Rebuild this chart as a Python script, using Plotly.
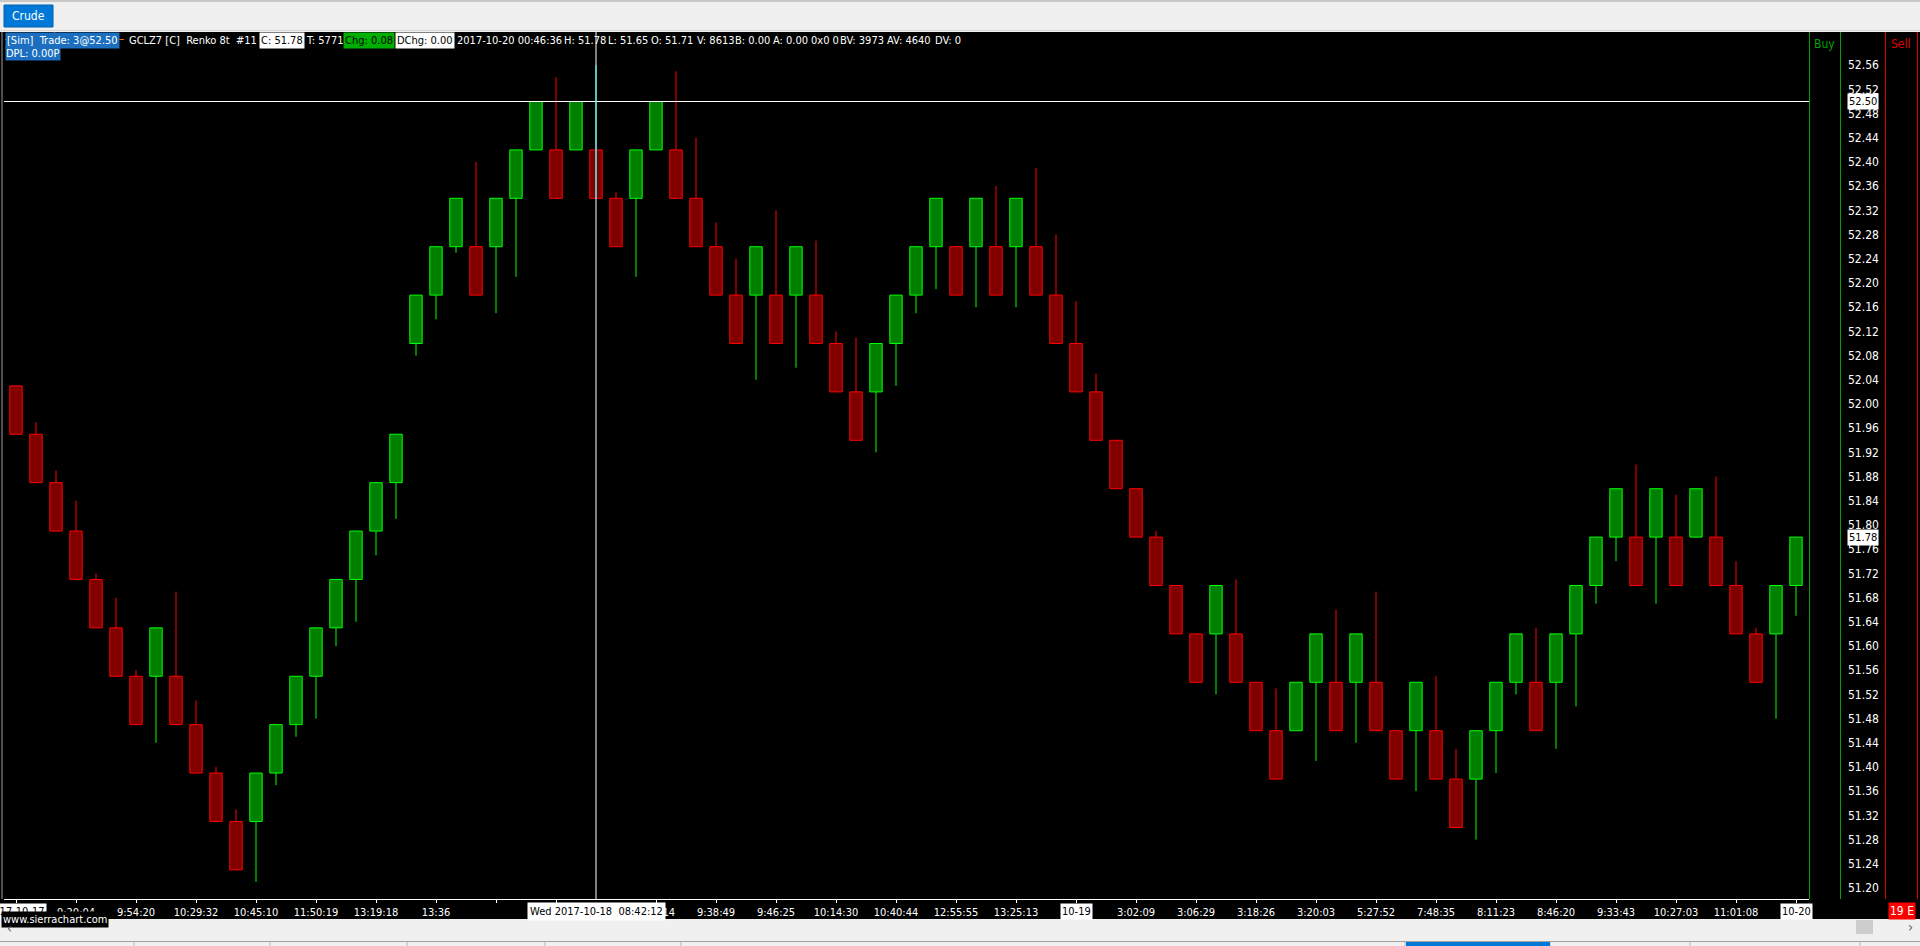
import plotly.graph_objects as go

W, H = 1920, 946

# ---------------- data (Renko 8t bricks, GCLZ7) ----------------
opens = [52.03, 51.95, 51.87, 51.79, 51.71, 51.63, 51.55, 51.55, 51.55, 51.47,
         51.39, 51.31, 51.31, 51.39, 51.47, 51.55, 51.63, 51.71, 51.79, 51.87,
         52.10, 52.18, 52.26, 52.26, 52.26, 52.34, 52.42, 52.42, 52.42, 52.42,
         52.34, 52.34, 52.42, 52.42, 52.34, 52.26, 52.18, 52.18, 52.18, 52.18,
         52.18, 52.10, 52.02, 52.02, 52.10, 52.18, 52.26, 52.26, 52.26, 52.26,
         52.26, 52.26, 52.18, 52.10, 52.02, 51.94, 51.86, 51.78, 51.70, 51.62,
         51.62, 51.62, 51.54, 51.46, 51.46, 51.54, 51.54, 51.54, 51.54, 51.46,
         51.46, 51.46, 51.38, 51.38, 51.46, 51.54, 51.54, 51.54, 51.62, 51.70,
         51.78, 51.78, 51.78, 51.78, 51.78, 51.78, 51.70, 51.62, 51.62, 51.70]
closes = [51.95, 51.87, 51.79, 51.71, 51.63, 51.55, 51.47, 51.63, 51.47, 51.39,
          51.31, 51.23, 51.39, 51.47, 51.55, 51.63, 51.71, 51.79, 51.87, 51.95,
          52.18, 52.26, 52.34, 52.18, 52.34, 52.42, 52.50, 52.34, 52.50, 52.34,
          52.26, 52.42, 52.50, 52.34, 52.26, 52.18, 52.10, 52.26, 52.10, 52.26,
          52.10, 52.02, 51.94, 52.10, 52.18, 52.26, 52.34, 52.18, 52.34, 52.18,
          52.34, 52.18, 52.10, 52.02, 51.94, 51.86, 51.78, 51.70, 51.62, 51.54,
          51.70, 51.54, 51.46, 51.38, 51.54, 51.62, 51.46, 51.62, 51.46, 51.38,
          51.54, 51.38, 51.30, 51.46, 51.54, 51.62, 51.46, 51.62, 51.70, 51.78,
          51.86, 51.70, 51.86, 51.70, 51.86, 51.70, 51.62, 51.54, 51.70, 51.78]
highs = [52.03, 51.97, 51.89, 51.84, 51.72, 51.68, 51.56, 51.63, 51.69, 51.51,
         51.40, 51.33, 51.39, 51.47, 51.55, 51.63, 51.71, 51.79, 51.87, 51.95,
         52.18, 52.26, 52.34, 52.40, 52.34, 52.42, 52.50, 52.54, 52.50, 52.56,
         52.35, 52.42, 52.50, 52.55, 52.44, 52.30, 52.24, 52.26, 52.32, 52.26,
         52.27, 52.12, 52.11, 52.10, 52.18, 52.26, 52.34, 52.26, 52.34, 52.36,
         52.34, 52.39, 52.28, 52.17, 52.05, 51.94, 51.86, 51.79, 51.70, 51.62,
         51.70, 51.71, 51.54, 51.53, 51.54, 51.62, 51.66, 51.62, 51.69, 51.46,
         51.54, 51.55, 51.43, 51.46, 51.54, 51.62, 51.63, 51.62, 51.70, 51.78,
         51.86, 51.90, 51.86, 51.85, 51.86, 51.88, 51.74, 51.63, 51.70, 51.78]
lows = [51.95, 51.87, 51.79, 51.71, 51.63, 51.55, 51.47, 51.44, 51.47, 51.39,
        51.31, 51.23, 51.21, 51.37, 51.45, 51.48, 51.60, 51.64, 51.75, 51.81,
        52.08, 52.14, 52.25, 52.18, 52.15, 52.21, 52.42, 52.34, 52.42, 52.34,
        52.26, 52.21, 52.42, 52.34, 52.26, 52.18, 52.10, 52.04, 52.10, 52.06,
        52.10, 52.02, 51.94, 51.92, 52.03, 52.15, 52.19, 52.18, 52.16, 52.18,
        52.16, 52.18, 52.10, 52.02, 51.94, 51.86, 51.78, 51.70, 51.62, 51.54,
        51.52, 51.54, 51.46, 51.38, 51.46, 51.41, 51.46, 51.44, 51.46, 51.38,
        51.36, 51.38, 51.30, 51.28, 51.39, 51.52, 51.46, 51.43, 51.50, 51.67,
        51.74, 51.70, 51.67, 51.70, 51.78, 51.70, 51.62, 51.54, 51.48, 51.65]

y_tick_vals = [51.20, 51.24, 51.28, 51.32, 51.36, 51.40, 51.44, 51.48, 51.52,
               51.56, 51.60, 51.64, 51.68, 51.72, 51.76, 51.80, 51.84, 51.88,
               51.92, 51.96, 52.00, 52.04, 52.08, 52.12, 52.16, 52.20, 52.24,
               52.28, 52.32, 52.36, 52.40, 52.44, 52.48, 52.52, 52.56]

x_tick_idx = [0, 3, 6, 9, 12, 15, 18, 21, 24, 27, 32, 35, 38, 41, 44, 47, 50, 53,
              56, 59, 62, 65, 68, 71, 74, 77, 80, 83, 86, 89]
x_tick_text = ["", "9:20:04", "9:54:20", "10:29:32", "10:45:10", "11:50:19",
               "13:19:18", "13:36", "", "", "9:22:14", "9:38:49", "9:46:25",
               "10:14:30", "10:40:44", "12:55:55", "13:25:13", "", "3:02:09",
               "3:06:29", "3:18:26", "3:20:03", "5:27:52", "7:48:35", "8:11:23",
               "8:46:20", "9:33:43", "10:27:03", "11:01:08", ""]
date_labels_idx = [0, 53, 89]
date_labels_text = ["2017-10-17", "10-19", "10-20"]

line_price = 52.50        # horizontal order line
last_price = 51.78        # current price marker
cross_idx = 29            # crosshair bar
cross_label = "Wed 2017-10-18  08:42:12"

header_line1 = [  # (text, x pixel, text colour, background)
    ("[Sim]  Trade: 3@52.50", 5, "#ffffff", "#1c6fc0"),
    ("GCLZ7 [C]  Renko 8t  #11", 127, "#ffffff", None),
    ("C: 51.78", 259, "#000000", "#ffffff"),
    ("T: 5771", 304, "#ffffff", None),
    ("Chg: 0.08", 343, "#000000", "#00b000"),
    ("DChg: 0.00", 395, "#000000", "#ffffff"),
    ("2017-10-20 00:46:36", 455, "#ffffff", None),
    ("H: 51.78", 562, "#ffffff", None),
    ("L: 51.65", 606, "#ffffff", None),
    ("O: 51.71", 649, "#ffffff", None),
    ("V: 8613", 695, "#ffffff", None),
    ("B: 0.00", 733, "#ffffff", None),
    ("A: 0.00", 771, "#ffffff", None),
    ("0x0 0", 809, "#ffffff", None),
    ("BV: 3973", 838, "#ffffff", None),
    ("AV: 4640", 885, "#ffffff", None),
    ("DV: 0", 933, "#ffffff", None),
]
header_line2 = ("DPL: 0.00P", 5, "#ffffff", "#1c6fc0")

# ---------------- geometry helpers ----------------
FONT = "Liberation Sans Narrow, DejaVu Sans Condensed, Roboto Condensed, Liberation Sans, Arial"
PLOT_L, PLOT_R, PLOT_T, PLOT_B = 4, 1809, 32, 899
FS = 11


def X(px):
    return px / W


def Y(py):
    return 1 - py / H


def keep_spaces(s):
    return s.replace("  ", "\u00a0\u00a0")


n = len(opens)
idx = list(range(n))
up = [c > o for o, c in zip(opens, closes)]
fill = ["#008000" if u else "#800000" for u in up]
edge = ["#00ff00" if u else "#ff0000" for u in up]
base = [min(o, c) for o, c in zip(opens, closes)]
height = [abs(c - o) for o, c in zip(opens, closes)]

fig = go.Figure()

# wicks
for is_up, col in ((True, "#00ff00"), (False, "#ff0000")):
    wx, wy = [], []
    for i in idx:
        if up[i] != is_up:
            continue
        top, bot = max(opens[i], closes[i]), min(opens[i], closes[i])
        if highs[i] > top + 1e-9:
            wx += [i, i, None]
            wy += [top, highs[i], None]
        if lows[i] < bot - 1e-9:
            wx += [i, i, None]
            wy += [bot, lows[i], None]
    fig.add_trace(go.Scatter(x=wx, y=wy, mode="lines", line=dict(color=col, width=1),
                             hoverinfo="skip", showlegend=False))

# bodies
fig.add_trace(go.Bar(x=idx, y=height, base=base, width=0.62,
                     marker=dict(color=fill, line=dict(color=edge, width=1)),
                     hoverinfo="skip", showlegend=False))

# XOR-like colouring where the order line crosses brick tops
mx, my = [], []
for i in idx:
    if up[i] and abs(closes[i] - line_price) < 1e-9:
        mx += [i - 0.31, i + 0.31, None]
        my += [line_price, line_price, None]
fig.add_trace(go.Scatter(x=mx, y=my, mode="lines", line=dict(color="#ff00ff", width=1),
                         hoverinfo="skip", showlegend=False))

shapes = []
# horizontal order line
shapes.append(dict(type="line", xref="x domain", yref="y", x0=0, x1=1,
                   y0=line_price, y1=line_price, line=dict(color="#ffffff", width=1)))
# crosshair vertical
shapes.append(dict(type="line", xref="x", yref="y domain", x0=cross_idx, x1=cross_idx,
                   y0=0, y1=1, line=dict(color="#ffffff", width=1)))
shapes.append(dict(type="line", xref="x", yref="y", x0=cross_idx, x1=cross_idx,
                   y0=lows[cross_idx], y1=highs[cross_idx], line=dict(color="#00ffff", width=1)))

# top tab bar
shapes.append(dict(type="rect", xref="paper", yref="paper", x0=0, x1=1, y0=Y(32), y1=1,
                   fillcolor="#f0f0f0", line=dict(width=0), layer="above"))
shapes.append(dict(type="line", xref="paper", yref="paper", x0=0, x1=1, y0=Y(1), y1=Y(1),
                   line=dict(color="#a0a0a0", width=1), layer="above"))
shapes.append(dict(type="line", xref="paper", yref="paper", x0=0, x1=1, y0=Y(30.5), y1=Y(30.5),
                   line=dict(color="#d8d8d8", width=1), layer="above"))
shapes.append(dict(type="rect", xref="paper", yref="paper", x0=X(4), x1=X(53), y0=Y(27), y1=Y(5),
                   fillcolor="#0078d7", line=dict(color="#0060b0", width=1), layer="above"))

# bottom scroll / tab area
shapes.append(dict(type="rect", xref="paper", yref="paper", x0=0, x1=1, y0=0, y1=Y(919),
                   fillcolor="#f0f0f0", line=dict(width=0), layer="above"))
shapes.append(dict(type="line", xref="paper", yref="paper", x0=0, x1=1, y0=Y(941.5), y1=Y(941.5),
                   line=dict(color="#a0a0a0", width=1), layer="above"))
for dx in (134, 270, 407, 545, 681, 1405, 1550, 1690, 1860):
    shapes.append(dict(type="line", xref="paper", yref="paper", x0=X(dx), x1=X(dx), y0=0, y1=Y(942),
                       line=dict(color="#b8b8b8", width=1), layer="above"))
shapes.append(dict(type="rect", xref="paper", yref="paper", x0=X(1406), x1=X(1550), y0=0, y1=Y(942),
                   fillcolor="#0078d7", line=dict(width=0), layer="above"))
shapes.append(dict(type="rect", xref="paper", yref="paper", x0=X(1856), x1=X(1873), y0=Y(934), y1=Y(920),
                   fillcolor="#cdcdcd", line=dict(width=0), layer="above"))

# left border of chart
shapes.append(dict(type="line", xref="paper", yref="paper", x0=X(2), x1=X(2), y0=Y(PLOT_B), y1=Y(PLOT_T),
                   line=dict(color="#a0a0a0", width=1), layer="above"))
# Buy / Sell column separators
for lx, lc in ((1809.5, "#00a000"), (1840.5, "#00a000"), (1885.5, "#e00000"), (1917.5, "#e00000")):
    shapes.append(dict(type="line", xref="paper", yref="paper", x0=X(lx), x1=X(lx),
                       y0=Y(PLOT_B), y1=Y(PLOT_T), line=dict(color=lc, width=1), layer="above"))

# orange order marker over the trade text
shapes.append(dict(type="line", xref="paper", yref="paper", x0=X(5), x1=X(124), y0=Y(39.5), y1=Y(39.5),
                   line=dict(color="#ff6a00", width=1), layer="above"))
shapes.append(dict(type="line", xref="paper", yref="paper", x0=X(54.5), x1=X(54.5), y0=Y(47), y1=Y(32),
                   line=dict(color="#ff6a00", width=1), layer="above"))

annotations = []


def ann(text, x, y, fg="#ffffff", bg=None, size=FS, xanchor="left", xref="paper", yref="paper",
        pad=0):
    d = dict(text=keep_spaces(text), x=x, y=y, xref=xref, yref=yref, xanchor=xanchor,
             yanchor="middle", showarrow=False, font=dict(family=FONT, size=size, color=fg),
             borderpad=pad)
    if bg:
        d["bgcolor"] = bg
    annotations.append(d)


# tab label
ann("Crude", X(28.5), Y(16), fg="#ffffff", size=12, xanchor="center")

# header info line
for text, px, fg, bg in header_line1:
    ann(text, X(px), Y(40), fg=fg, bg=bg, pad=1)
t2, px2, fg2, bg2 = header_line2
ann(t2, X(px2), Y(54), fg=fg2, bg=bg2, pad=0)

# Buy / Sell headers
ann("Buy", X(1824.5), Y(44), fg="#00a000", size=12, xanchor="center")
ann("Sell", X(1901), Y(44), fg="#e00000", size=12, xanchor="center")

# price markers on the y scale
for p in (line_price, last_price):
    ann(f"{p:.2f}", X(1862.5), p, fg="#000000", bg="#ffffff", xanchor="center", yref="y", pad=1)

# date labels (white boxes) on the time scale
for di, dt in zip(date_labels_idx, date_labels_text):
    ann(dt, di, Y(911), fg="#000000", bg="#ffffff", xanchor="center", xref="x", pad=1)

# crosshair time label
ann(cross_label, cross_idx, Y(911), fg="#000000", bg="#ffffff", xanchor="center", xref="x", pad=2)

# trading tab "19 E"
ann("19 E", X(1902), Y(911), fg="#ffffff", bg="#ff0000", size=12, xanchor="center", pad=1)

# website tooltip
ann("www.sierrachart.com", X(1), Y(919), fg="#ffffff", bg="#000000", xanchor="left", pad=1)

# scroll arrows
ann("‹", X(9), Y(928), fg="#606060", size=14, xanchor="center")
ann("›", X(1910), Y(927), fg="#606060", size=14, xanchor="center")

fig.update_layout(
    width=W, height=H,
    margin=dict(l=0, r=0, t=0, b=0, pad=0),
    paper_bgcolor="#000000", plot_bgcolor="#000000",
    barmode="overlay", showlegend=False, hovermode=False,
    shapes=shapes, annotations=annotations,
    xaxis=dict(domain=[X(PLOT_L), X(PLOT_R)], range=[-0.6, 89.65],
               showgrid=False, zeroline=False, showline=True, linecolor="#ffffff", linewidth=1,
               ticks="outside", ticklen=3, tickcolor="#ffffff", tickwidth=1,
               tickmode="array", tickvals=x_tick_idx, ticktext=x_tick_text,
               tickfont=dict(family=FONT, size=FS, color="#ffffff"), fixedrange=True),
    yaxis=dict(domain=[Y(PLOT_B), Y(PLOT_T)], range=[51.1818, 52.6149],
               side="right", anchor="free", position=X(1847),
               showgrid=False, zeroline=False, showline=False, ticks="",
               tickmode="array", tickvals=y_tick_vals,
               ticktext=[f"{v:.2f}" for v in y_tick_vals],
               tickfont=dict(family=FONT, size=12, color="#ffffff"), fixedrange=True),
)

fig.write_html("out.html", config={"displayModeBar": False},
               post_script="document.body.style.margin='0';document.body.style.overflow='hidden';")
